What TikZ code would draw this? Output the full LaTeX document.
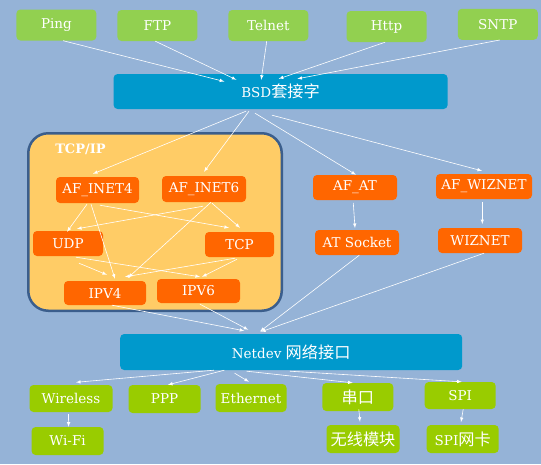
\documentclass[tikz,border=0pt]{standalone}
\usepackage{fontspec}
\setmainfont{DejaVu Serif}
\newfontfamily\cjk[Scale=1.2]{Noto Sans CJK SC}

\definecolor{bgblue}{HTML}{95B3D7}
\definecolor{appgreen}{HTML}{92D050}
\definecolor{devgreen}{HTML}{99CC00}
\definecolor{sockblue}{HTML}{0099CC}
\definecolor{famorange}{HTML}{FF6600}
\definecolor{stackyellow}{HTML}{FFCC66}
\definecolor{stackline}{HTML}{3B5E8C}

\begin{document}
\begin{tikzpicture}[x=1pt, y=-1pt,
        every node/.style={text=white, inner sep=0pt, rounded corners=4pt, font=\fontsize{13.5}{15}\selectfont},
        app/.style={fill=appgreen, minimum width=80pt, minimum height=31pt},
        layer/.style={fill=sockblue, minimum height=35pt},
        fam/.style={fill=famorange, minimum height=25pt},
        dev/.style={fill=devgreen, minimum width=71pt, minimum height=28pt},
        stack/.style={fill=stackyellow, draw=stackline, line width=2.5pt, rounded corners=20pt},
        conn/.style={draw=white, line width=.6pt, ->, >=latex}]
    \fill[bgblue] (0,0) rectangle (541,464);

    % applications
    \node[app] (ping) at (56.4,25) {Ping};
    \node[app] (ftp) at (157.4,25.5) {FTP};
    \node[app] (telnet) at (268.3,25.5) {Telnet};
    \node[app] (http) at (386.6,26.5) {Http};
    \node[app] (sntp) at (497.8,24.3) {SNTP};
    \node[layer, minimum width=334pt] (bsd) at (280.6,91.5) {BSD{\cjk 套接字}};

    % protocol families
    \node[stack, minimum width=253.5pt, minimum height=177.5pt] (tcpip) at (155,222) {};
    \node[font=\bfseries\fontsize{13}{15}\selectfont] (tcpiplabel) at (80.5,149) {TCP/IP};
    \node[fam, minimum width=83pt, minimum height=26pt] (inet4) at (97.5,190) {AF\_INET4};
    \node[fam, minimum width=84pt, minimum height=26pt] (inet6) at (204,189) {AF\_INET6};
    \node[fam, minimum width=70pt] (udp) at (68,243.5) {UDP};
    \node[fam, minimum width=69pt] (tcp) at (239.5,244.5) {TCP};
    \node[fam, minimum width=82pt, minimum height=24pt] (ipv4) at (105,293) {IPV4};
    \node[fam, minimum width=83pt, minimum height=24pt] (ipv6) at (198.5,291) {IPV6};
    \node[fam, minimum width=84pt] (afat) at (355,187.5) {AF\_AT};
    \node[fam, minimum width=84pt] (atsock) at (357,242.5) {AT Socket};
    \node[fam, minimum width=96pt] (afwiz) at (484,186.5) {AF\_WIZNET};
    \node[fam, minimum width=84pt] (wiznet) at (480,240.5) {WIZNET};

    % devices
    \node[layer, minimum width=342pt, minimum height=36pt] (netdev) at (291.2,352) {Netdev {\cjk 网络接口}};
    \node[dev, minimum width=83pt, minimum height=27pt] (wireless) at (71,398.5) {Wireless};
    \node[dev, minimum width=72pt] (ppp) at (164.6,399) {PPP};
    \node[dev] (ether) at (251,398) {Ethernet};
    \node[dev] (serial) at (357.8,397) {{\cjk 串口}};
    \node[dev, minimum height=27pt] (spi) at (460.2,395.5) {SPI};
    \node[dev, minimum width=72pt] (wifi) at (67.6,441) {Wi-Fi};
    \node[dev, minimum width=73pt] (wlmod) at (363,439) {{\cjk 无线模块}};
    \node[dev, minimum width=72pt] (spicard) at (462.7,439) {SPI{\cjk 网卡}};

    % applications -> bsd
    \foreach \app/\sx/\ex/\ey in {ping/6.7/-56.3/7.7, ftp/-2.1/-44.2/6, telnet/-1.6/-19.4/6, http/-1.5/-1.8/5, sntp/1.9/16.8/5}
        \draw[conn] ([shift={(\sx,0)}]\app.south) -- ([shift={(\ex,\ey)}]bsd.north);

    % bsd -> families
    \draw[conn] ([shift={(-34.6,2)}]bsd.south) -- ([shift={(-4.5,-3)}]inet4.north);
    \draw[conn] ([shift={(-31.6,2)}]bsd.south) -- ([shift={(0,-4)}]inet6.north);
    \draw[conn] ([shift={(-25.6,4)}]bsd.south) -- ([shift={(1,0)}]afat.north);
    \draw[conn] ([shift={(-8.6,6)}]bsd.south) -- ([shift={(-2,-3)}]afwiz.north);

    % inside tcp/ip
    \draw[conn] ([shift={(-10.5,1)}]inet4.south) -- ([shift={(-1,1)}]udp.north);
    \draw[conn] ([shift={(-6.5,1)}]inet4.south) -- ([shift={(10,-2)}]ipv4.north);
    \draw[conn] ([shift={(2.5,2)}]inet4.south) -- ([shift={(-10.5,-4)}]tcp.north);
    \draw[conn] ([shift={(-1,4)}]inet6.south) -- ([shift={(9,-2)}]udp.north);
    \draw[conn] ([shift={(8,1)}]inet6.south) -- ([shift={(0.5,-4)}]tcp.north);
    \draw[conn] ([shift={(7,0)}]inet6.south) -- ([shift={(23,-3)}]ipv4.north);
    \draw[conn] ([shift={(11,7)}]udp.south) -- ([shift={(2,-6)}]ipv4.north);
    \draw[conn] ([shift={(8,1)}]udp.south) -- ([shift={(1.5,-2)}]ipv6.north);
    \draw[conn] ([shift={(-4.5,1)}]tcp.south) -- ([shift={(20,-4)}]ipv4.north);
    \draw[conn] ([shift={(-2.5,2)}]tcp.south) -- ([shift={(3.5,-2)}]ipv6.north);

    % at / wiznet
    \draw[conn] ([shift={(-1.7,2.7)}]afat.south) -- ([shift={(-2,-1.7)}]atsock.north);
    \draw[conn] ([shift={(-1.7,2.7)}]afwiz.south) -- ([shift={(2.3,-3.7)}]wiznet.north);

    % -> netdev
    \draw[conn] ([shift={(7,0)}]ipv4.south) -- ([shift={(-46.9,-3)}]netdev.north);
    \draw[conn] ([shift={(1.5,1)}]ipv6.south) -- ([shift={(-42.9,-4)}]netdev.north);
    \draw[conn] ([shift={(2.3,0)}]atsock.south) -- ([shift={(-31.2,-2.3)}]netdev.north);
    \draw[conn] ([shift={(4,0)}]wiznet.south) -- ([shift={(-30.2,-2)}]netdev.north);

    % netdev -> devices
    \draw[conn] ([shift={(-77.3,0)}]netdev.south) -- ([shift={(5,-2.5)}]wireless.north);
    \draw[conn] ([shift={(-66.9,0)}]netdev.south) -- ([shift={(3.4,0)}]ppp.north);
    \draw[conn] ([shift={(-56.6,3)}]netdev.south) -- ([shift={(-2,-2)}]ether.north);
    \draw[conn] ([shift={(-44.5,1)}]netdev.south) -- ([shift={(-5.1,0)}]serial.north);
    \draw[conn] ([shift={(-1.3,1)}]netdev.south) -- ([shift={(1.5,0)}]spi.north);
    \draw[conn] ([shift={(-2.5,2)}]wireless.south) -- ([shift={(1,0)}]wifi.north);
    \draw[conn] ([shift={(1,-2)}]serial.south) -- ([shift={(-3,-3)}]wlmod.north);
    \draw[conn] ([shift={(3,0)}]spi.south) -- ([shift={(-1.7,-2.7)}]spicard.north);
\end{tikzpicture}
\end{document}
